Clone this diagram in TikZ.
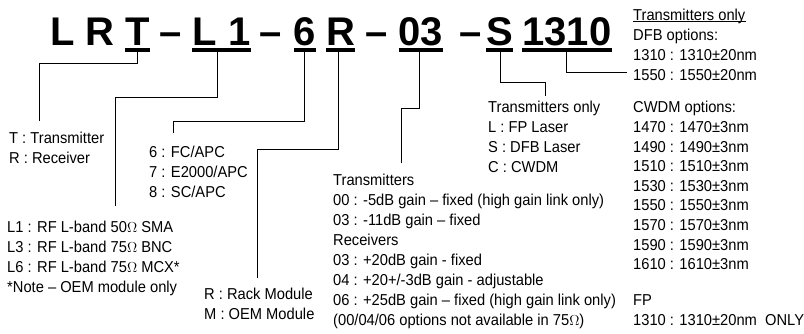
\documentclass[tikz,border=0pt]{standalone}
\usepackage{fontspec}
\setmainfont{Liberation Sans}[FakeStretch=0.93]
\newfontfamily\codefont{Liberation Sans}

\begin{document}
\begin{tikzpicture}[x=1pt,y=-1pt,
    code/.style={font=\codefont\bfseries\fontsize{40}{40}\selectfont,inner sep=0pt,anchor=base},
    uline/.style={line width=4.5pt},
    conn/.style={line width=1pt},
    txt/.style={font=\fontsize{15.8}{20}\selectfont,align=left,inner sep=0pt,anchor=north west}]

    \useasboundingbox (0,0) rectangle (804,333);

    % part number
    \node[code] (pL) at (62.5,45) {L};
    \node[code] (pR) at (100,45) {R};
    \node[code] (pT) at (137.5,45) {T};
    \node[code] (dash1) at (171,45) {–};
    \node[code] (pL1) at (221.5,45) {L 1};
    \node[code] (dash2) at (271,45) {–};
    \node[code] (p6) at (305,45) {6};
    \node[code] (pRk) at (340.5,45) {R};
    \node[code] (dash3) at (377,45) {–};
    \node[code] (p03) at (421,45) {03};
    \node[code] (dash4) at (471,45) {–};
    \node[code] (pS) at (499.5,45) {S};
    \node[code] (p1310) at (567,45) {1310};

    \foreach \p in {pT,pL1,p6,pRk,p03,pS,p1310}
        \draw[uline] ([yshift=-5pt]\p.base west) -- ([yshift=-5pt]\p.base east);

    % option lists
    \node[txt] (typeList) at (9,132.3) {T : Transmitter\\R : Receiver};
    \node[txt] (rfList) at (7,221.3) {L1 : RF L-band 50$\Omega$ SMA\\L3 : RF L-band 75$\Omega$ BNC\\L6 : RF L-band 75$\Omega$ MCX*\\*Note – OEM module only};
    \node[txt] (conList) at (149,146.3) {6 : FC/APC\\7 : E2000/APC\\8 : SC/APC};
    \node[txt] (modList) at (204,288.3) {R : Rack Module\\M : OEM Module};
    \node[txt] (gainList) at (333,174.3) {Transmitters\\00 : -5dB gain – fixed (high gain link only)\\03 : -11dB gain – fixed\\Receivers\\03 : +20dB gain - fixed\\04 : +20+/-3dB gain - adjustable\\06 : +25dB gain – fixed (high gain link only)\\(00/04/06 options not available in 75$\Omega$)};
    \node[txt] (laserList) at (488,101.3) {Transmitters only\\L : FP Laser\\S : DFB Laser\\C : CWDM};
    \node[txt,anchor=base west] (wlHead) at (633,20.65) {Transmitters only};
    \draw[conn] ([yshift=-1.3pt]wlHead.base west) -- ([yshift=-1.3pt]wlHead.base east);
    \node[txt] (dfbList) at (633,29.3) {DFB options:\\1310 : 1310±20nm\\1550 : 1550±20nm};
    \node[txt,font=\fontsize{15.8}{19.6}\selectfont] (cwdmList) at (633,101.3) {CWDM options:\\1470 : 1470±3nm\\1490 : 1490±3nm\\1510 : 1510±3nm\\1530 : 1530±3nm\\1550 : 1550±3nm\\1570 : 1570±3nm\\1590 : 1590±3nm\\1610 : 1610±3nm};
    \node[txt] (fpList) at (633,294.3) {FP\\1310 : 1310±20nm\ \ ONLY};

    % leader lines
    \coordinate (typeEnd) at (39,121);
    \coordinate (rfEnd) at (115,206);
    \coordinate (conEnd) at (173,133);
    \coordinate (modEnd) at (257.5,278);
    \coordinate (gainEnd) at (401.5,163);
    \coordinate (laserEnd) at (545,96);
    \coordinate (wlEnd) at (627,72);

    \draw[conn] ([yshift=-5pt]pT.base) -- ++(0,13) -| (typeEnd);
    \draw[conn] ([xshift=-4.5pt,yshift=-5pt]pL1.base) -- ++(0,47) -| (rfEnd);
    \draw[conn] ([xshift=-0.5pt,yshift=-5pt]p6.base) -- ++(0,71) -| (conEnd);
    \draw[conn] ([xshift=-2.5pt,yshift=-5pt]pRk.base) -- ++(0,99) -| (modEnd);
    \draw[conn] ([xshift=-2pt,yshift=-5pt]p03.base) -- ++(0,58) -| (gainEnd);
    \draw[conn] ([xshift=1pt,yshift=-5pt]pS.base) -- ++(0,32) -| (laserEnd);
    \draw[conn] ([xshift=-1pt,yshift=-5pt]p1310.base) |- (wlEnd);
\end{tikzpicture}
\end{document}
